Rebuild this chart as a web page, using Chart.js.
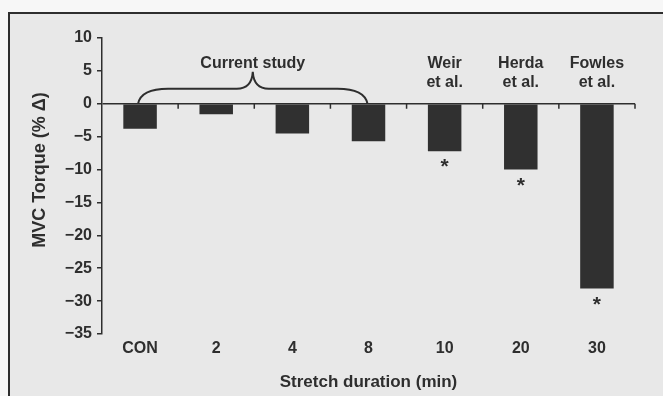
<!DOCTYPE html>
<html><head><meta charset="utf-8">
<script src="https://cdn.jsdelivr.net/npm/chart.js@4/dist/chart.umd.min.js"></script>
<style>html,body{margin:0;padding:0;background:#f7f7f7;} canvas{display:block;}</style>
</head><body>
<canvas id="c" width="663" height="396"></canvas>
<script>
// ---- data ----
const categories = ['CON', '2', '4', '8', '10', '20', '30'];
const torqueChange = [-3.8, -1.6, -4.5, -5.7, -7.2, -10.0, -28.1];
const yMin = -35, yMax = 10, yStep = 5;
const studyLabels = [null, null, null, null, ['Weir', 'et al.'], ['Herda', 'et al.'], ['Fowles', 'et al.']];
const significant = [false, false, false, false, true, true, true];
const currentStudyFrom = 0, currentStudyTo = 3;
const braceLabel = 'Current study';
const xTitle = 'Stretch duration (min)';
const yTitle = 'MVC Torque (% Δ)';

const INK = '#2e2e2e';
const FONT = '"Liberation Sans", Arial, Helvetica, sans-serif';

const decor = {
  id: 'decor',
  beforeDraw(chart) {
    const ctx = chart.ctx;
    ctx.save();
    ctx.fillStyle = '#f7f7f7';
    ctx.fillRect(0, 0, chart.width, chart.height);
    ctx.fillStyle = '#e8e8e8';
    ctx.fillRect(9, 13, chart.width - 9, chart.height - 13);
    ctx.strokeStyle = INK;
    ctx.lineWidth = 2;
    ctx.beginPath();
    ctx.moveTo(9, chart.height);
    ctx.lineTo(9, 13);
    ctx.lineTo(chart.width, 13);
    ctx.stroke();
    ctx.restore();
  },
  afterDatasetsDraw(chart) {
    const ctx = chart.ctx;
    const xs = chart.scales.x, ys = chart.scales.y;
    const area = chart.chartArea;
    const y0 = ys.getPixelForValue(0);
    ctx.save();
    ctx.strokeStyle = INK;
    ctx.fillStyle = INK;
    // downward ticks on zero line at category boundaries
    ctx.lineWidth = 1.5;
    ctx.beginPath();
    for (let i = 0; i < categories.length; i++) {
      const bx = i < categories.length - 1
        ? (xs.getPixelForValue(i) + xs.getPixelForValue(i + 1)) / 2
        : area.right;
      ctx.moveTo(bx, y0);
      ctx.lineTo(bx, y0 + 5);
    }
    ctx.stroke();

    // brace over current study
    const x0 = xs.getPixelForValue(currentStudyFrom) - 2;
    const x1 = xs.getPixelForValue(currentStudyTo) - 1;
    const xm = (x0 + x1) / 2;
    const ya = y0 - 15, yp = y0 - 32;
    ctx.lineWidth = 2;
    ctx.beginPath();
    ctx.moveTo(x0, y0);
    ctx.quadraticCurveTo(x0 + 3, ya, x0 + 30, ya);
    ctx.lineTo(xm - 16, ya);
    ctx.quadraticCurveTo(xm - 1, ya, xm, yp);
    ctx.quadraticCurveTo(xm + 1, ya, xm + 16, ya);
    ctx.lineTo(x1 - 30, ya);
    ctx.quadraticCurveTo(x1 - 3, ya, x1, y0);
    ctx.stroke();

    ctx.textAlign = 'center';
    ctx.textBaseline = 'middle';
    ctx.font = 'bold 16px ' + FONT;
    ctx.fillText(braceLabel, xm, y0 - 40);

    // study labels
    studyLabels.forEach((lines, i) => {
      if (!lines) return;
      const cx = xs.getPixelForValue(i);
      ctx.fillText(lines[0], cx, y0 - 40);
      ctx.fillText(lines[1], cx, y0 - 21);
    });

    // significance stars
    ctx.font = 'bold 21px ' + FONT;
    ctx.textBaseline = 'alphabetic';
    significant.forEach((s, i) => {
      if (!s) return;
      const cx = xs.getPixelForValue(i);
      const cy = ys.getPixelForValue(torqueChange[i]) + 13;
      ctx.fillText('*', cx, cy + 9);
    });

    // y axis title
    ctx.font = 'bold 18px ' + FONT;
    ctx.textBaseline = 'middle';
    ctx.translate(40, 170);
    ctx.rotate(-Math.PI / 2);
    ctx.fillText(yTitle, 0, 0);
    ctx.restore();
  }
};

new Chart(document.getElementById('c'), {
  type: 'bar',
  data: {
    labels: categories,
    datasets: [{
      data: torqueChange,
      backgroundColor: '#303030',
      borderWidth: 0,
      barPercentage: 0.44,
      categoryPercentage: 1.0
    }]
  },
  options: {
    responsive: false,
    animation: false,
    devicePixelRatio: 1,
    layout: { padding: { top: 38, right: 28, left: 0, bottom: 0 } },
    plugins: { legend: { display: false }, tooltip: { enabled: false } },
    scales: {
      x: {
        type: 'category',
        offset: true,
        grid: { display: false, drawTicks: false, tickLength: 0 },
        border: { display: false },
        ticks: { color: INK, padding: 5, font: { family: FONT, size: 16, weight: 'bold' } },
        title: { display: true, text: xTitle, color: INK, padding: { top: 0, bottom: 3 },
                 font: { family: FONT, size: 17, weight: 'bold' } },
        afterFit(scale) { scale.height = 62; }
      },
      y: {
        min: yMin, max: yMax,
        ticks: {
          stepSize: yStep,
          color: INK,
          padding: 5,
          font: { family: FONT, size: 16, weight: 'bold' },
          callback: v => (v < 0 ? '\u2212' + Math.abs(v) : String(v))
        },
        grid: {
          drawOnChartArea: true,
          drawTicks: true,
          tickLength: 5,
          tickColor: INK,
          tickWidth: 1.5,
          lineWidth: 1.5,
          color: c => (c.tick && c.tick.value === 0 ? INK : 'rgba(0,0,0,0)')
        },
        border: { display: true, color: INK, width: 1.5 },
        afterFit(scale) { scale.width = 102; }
      }
    }
  },
  plugins: [decor]
});
</script>
</body></html>
